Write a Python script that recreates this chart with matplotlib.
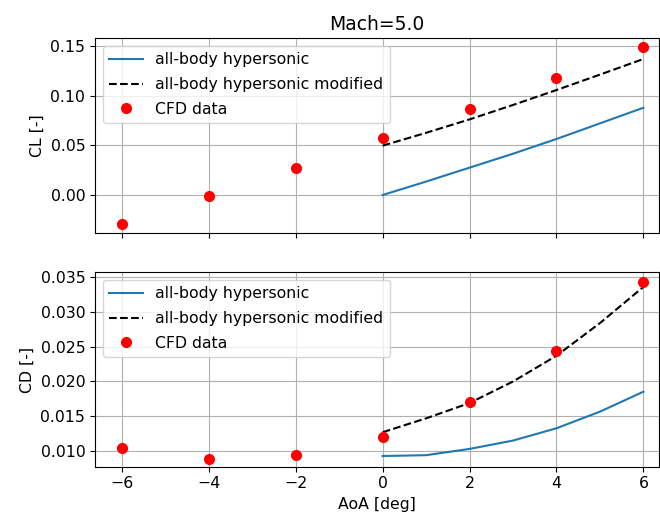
import matplotlib
matplotlib.use("Agg")
import matplotlib.pyplot as plt

plt.rcParams["font.size"] = 11.3

# Angle of attack grids
aoa_model = [0, 1, 2, 3, 4, 5, 6]
aoa_cfd = [-6, -4, -2, 0, 2, 4, 6]

# Lift coefficient
cl_hyp = [0.0, 0.0135, 0.0275, 0.0415, 0.0563, 0.0720, 0.0877]
cl_hyp_mod = [0.0496, 0.0625, 0.0760, 0.0905, 0.1055, 0.1210, 0.1367]
cl_cfd = [-0.0291, -0.0013, 0.0275, 0.0570, 0.0861, 0.1179, 0.1490]

# Drag coefficient
cd_hyp = [0.00928, 0.00940, 0.01030, 0.01150, 0.01327, 0.01566, 0.01853]
cd_hyp_mod = [0.01270, 0.01470, 0.01690, 0.02000, 0.02370, 0.02840, 0.03360]
cd_cfd = [0.01040, 0.00890, 0.00940, 0.01206, 0.01710, 0.02440, 0.03430]

fig = plt.figure(figsize=(6.6, 5.21), dpi=100)
ax1 = fig.add_axes([0.1439, 0.5522, 0.854, 0.3743])
ax2 = fig.add_axes([0.1439, 0.1042, 0.854, 0.3731], sharex=ax1)

for ax, hyp, mod, cfd, ylab in [
    (ax1, cl_hyp, cl_hyp_mod, cl_cfd, "CL [-]"),
    (ax2, cd_hyp, cd_hyp_mod, cd_cfd, "CD [-]"),
]:
    ax.plot(aoa_model, hyp, color="#1f77b4", label="all-body hypersonic")
    ax.plot(aoa_model, mod, "k--", label="all-body hypersonic modified")
    ax.plot(aoa_cfd, cfd, "o", color="red", markersize=7, label="CFD data")
    ax.set_ylabel(ylab)
    ax.grid(True)
    ax.legend(loc="upper left", handlelength=2.15, labelspacing=0.62)

ax1.set_title("Mach=5.0", fontsize=13.5)
ax1.tick_params(labelbottom=False)
ax1.set_xlim(-6.62, 6.35)
ax1.set_ylim(-0.0385, 0.1575)
ax2.set_ylim(0.00774, 0.0357)
ax2.set_xticks([-6, -4, -2, 0, 2, 4, 6])
ax2.set_xlabel("AoA [deg]")

fig.savefig("out.png", dpi=100)
